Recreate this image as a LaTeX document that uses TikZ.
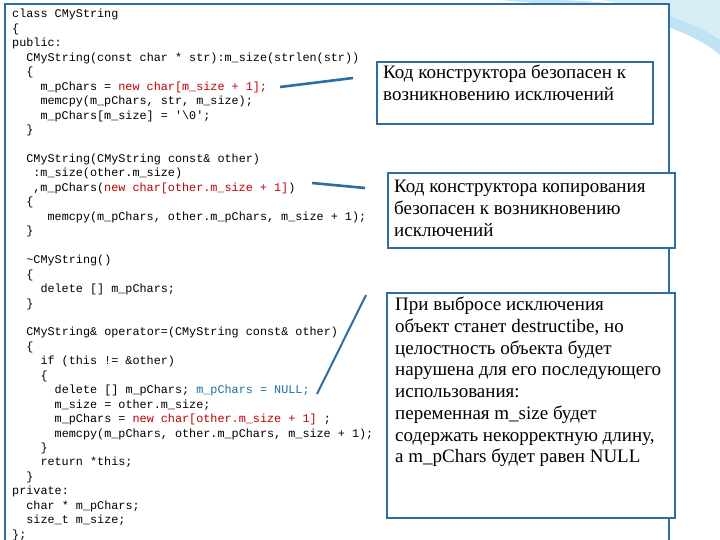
\documentclass[tikz,border=0pt]{standalone}
\usepackage{fontspec}
\setmainfont{Liberation Serif}
\newfontfamily\codefont{Liberation Mono}
\definecolor{frameblue}{HTML}{2E6DA4}
\definecolor{codered}{HTML}{C00000}
\definecolor{codeblue}{HTML}{1F6FA0}
\definecolor{swoosh}{HTML}{BFE3F2}
\begin{document}
\begin{tikzpicture}[x=1pt,y=-1pt,
  code/.style={anchor=base west,inner sep=0pt,font=\codefont\fontsize{11.8}{14}\selectfont},
  callout/.style={draw=frameblue,line width=1.6pt,fill=white},
  note/.style={anchor=north west,inner sep=0pt,align=left,font=\fontsize{19}{21.7}\selectfont},
  link/.style={draw=frameblue,line width=2.6pt}]
\useasboundingbox[fill=white] (0,0) rectangle (720,540);
% background swoosh
\fill[swoosh] (500,0) .. controls (600,8) and (680,20) .. (720,55) -- (720,35) .. controls (680,10) and (620,2) .. (560,0) -- cycle;
\fill[swoosh!60] (600,0) .. controls (660,10) and (700,25) .. (720,40) -- (720,0) -- cycle;
% main frame
\node[draw=frameblue,line width=1.6pt,fill=white,minimum width=664pt,minimum height=540pt,anchor=north west,inner sep=0pt] (frame) at (4,3) {};
% code
\node[code] (l1) at (12,18) {class CMyString};
\node[code] (l2) at (12,32.45) {\{};
\node[code] (l3) at (12,46.9) {public:};
\node[code] (l4) at (26.2,61.35) {CMyString(const char * str):m\_size(strlen(str))};
\node[code] (l5) at (26.2,75.8) {\{};
\node[code] (l6) at (40.3,90.25) {m\_pChars = \textcolor{codered}{new char[m\_size + 1];}};
\node[code] (l7) at (40.3,104.7) {memcpy(m\_pChars, str, m\_size);};
\node[code] (l8) at (40.3,119.15) {m\_pChars[m\_size] = '\textbackslash0';};
\node[code] (l9) at (26.2,133.6) {\}};
\node[code] (l11) at (26.2,162.5) {CMyString(CMyString const\& other)};
\node[code] (l12) at (33.2,176.95) {:m\_size(other.m\_size)};
\node[code] (l13) at (33.2,191.4) {,m\_pChars(\textcolor{codered}{new char[other.m\_size + 1]})};
\node[code] (l14) at (26.2,205.85) {\{};
\node[code] (l15) at (47.4,220.3) {memcpy(m\_pChars, other.m\_pChars, m\_size + 1);};
\node[code] (l16) at (26.2,234.75) {\}};
\node[code] (l18) at (26.2,263.65) {\textasciitilde CMyString()};
\node[code] (l19) at (26.2,278.1) {\{};
\node[code] (l20) at (40.3,292.55) {delete [] m\_pChars;};
\node[code] (l21) at (26.2,307) {\}};
\node[code] (l23) at (26.2,335.9) {CMyString\& operator=(CMyString const\& other)};
\node[code] (l24) at (26.2,350.35) {\{};
\node[code] (l25) at (40.3,364.8) {if (this != \&other)};
\node[code] (l26) at (40.3,379.25) {\{};
\node[code] (l27) at (54.5,393.7) {delete [] m\_pChars; \textcolor{codeblue}{m\_pChars = NULL;}};
\node[code] (l28) at (54.5,408.15) {m\_size = other.m\_size;};
\node[code] (l29) at (54.5,422.6) {m\_pChars = \textcolor{codered}{new char[other.m\_size + 1]} ;};
\node[code] (l30) at (54.5,437.05) {memcpy(m\_pChars, other.m\_pChars, m\_size + 1);};
\node[code] (l31) at (40.3,451.5) {\}};
\node[code] (l32) at (40.3,465.95) {return *this;};
\node[code] (l33) at (26.2,480.4) {\}};
\node[code] (l34) at (12,494.85) {private:};
\node[code] (l35) at (26.2,509.3) {char * m\_pChars;};
\node[code] (l36) at (26.2,523.75) {size\_t m\_size;};
\node[code] (l37) at (12,538.2) {\};};
% callouts
\path[callout] (377,62) rectangle (653,124);
\node[note] (n1) at (383,65) {Код конструктора безопасен к\\возникновению исключений};
\path[callout] (388,173) rectangle (675,248);
\node[note] (n2) at (394,180) {Код конструктора копирования\\безопасен к возникновению\\исключений};
\path[callout] (387,293) rectangle (675,518);
\node[note] (n3) at (395,297) {При выбросе исключения\\объект станет destructibe, но\\целостность объекта будет\\нарушена для его последующего\\использования:\\переменная m\_size будет\\содержать некорректную длину,\\а m\_pChars будет равен NULL};
% connectors
\coordinate (c1a) at (280,87); \coordinate (c1b) at (353,78);
\coordinate (c2a) at (312,183); \coordinate (c2b) at (365,188);
\coordinate (c3a) at (317,394); \coordinate (c3b) at (366,295);
\draw[link] (c1a) -- (c1b);
\draw[link] (c2a) -- (c2b);
\draw[link,line width=2pt] (c3a) -- (c3b);
\end{tikzpicture}
\end{document}
